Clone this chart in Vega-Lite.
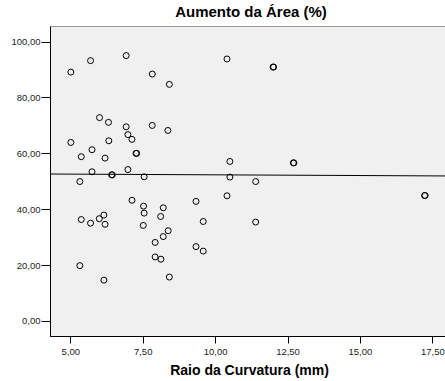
{
  "$schema": "https://vega.github.io/schema/vega-lite/v6.json",
  "autosize": "none",
  "width": 398,
  "height": 310,
  "padding": {"left": 50, "top": 26, "right": 0, "bottom": 45},
  "background": "white",
  "title": {"text": "Aumento da Área (%)", "font": "Liberation Sans", "fontSize": 15, "fontWeight": "bold", "color": "black", "anchor": "middle", "dx": 2, "baseline": "alphabetic", "offset": -6},
  "config": {
    "view": {"fill": "#f0f0f0", "stroke": "#999999", "strokeWidth": 1},
    "axis": {"labelFont": "Liberation Sans", "labelFontSize": 9.5, "labelColor": "#222", "titleFont": "Liberation Sans", "titleFontSize": 14, "titleFontWeight": "bold", "titleColor": "black", "domainColor": "black", "tickColor": "black", "grid": false}
  },
  "datasets": {
    "pts": [
      {"raio": 5.02, "aumento": 89.1}, {"raio": 5.70, "aumento": 93.2}, {"raio": 6.93, "aumento": 95.0},
      {"raio": 7.83, "aumento": 88.4}, {"raio": 8.42, "aumento": 84.7}, {"raio": 10.41, "aumento": 93.8},
      {"raio": 12.0, "aumento": 90.9}, {"raio": 12.02, "aumento": 90.9},
      {"raio": 6.01, "aumento": 72.8}, {"raio": 6.32, "aumento": 71.1}, {"raio": 6.93, "aumento": 69.5},
      {"raio": 7.83, "aumento": 70.0}, {"raio": 8.37, "aumento": 68.2}, {"raio": 6.99, "aumento": 66.7},
      {"raio": 7.13, "aumento": 65.0}, {"raio": 6.33, "aumento": 64.5}, {"raio": 5.02, "aumento": 63.9},
      {"raio": 5.75, "aumento": 61.3}, {"raio": 7.27, "aumento": 60.0}, {"raio": 7.29, "aumento": 60.0},
      {"raio": 5.38, "aumento": 58.8}, {"raio": 6.20, "aumento": 58.3}, {"raio": 10.51, "aumento": 57.1},
      {"raio": 12.70, "aumento": 56.6}, {"raio": 12.72, "aumento": 56.6},
      {"raio": 6.99, "aumento": 54.2}, {"raio": 5.75, "aumento": 53.4}, {"raio": 6.43, "aumento": 52.3}, {"raio": 6.45, "aumento": 52.3},
      {"raio": 7.55, "aumento": 51.6}, {"raio": 10.51, "aumento": 51.5}, {"raio": 5.33, "aumento": 49.9},
      {"raio": 11.40, "aumento": 49.9}, {"raio": 10.41, "aumento": 44.8}, {"raio": 17.23, "aumento": 44.9}, {"raio": 17.25, "aumento": 44.9},
      {"raio": 7.13, "aumento": 43.2}, {"raio": 9.34, "aumento": 42.8}, {"raio": 7.53, "aumento": 41.1},
      {"raio": 8.21, "aumento": 40.5}, {"raio": 7.55, "aumento": 38.6}, {"raio": 6.16, "aumento": 37.9},
      {"raio": 8.12, "aumento": 37.4}, {"raio": 5.38, "aumento": 36.3}, {"raio": 6.00, "aumento": 36.6},
      {"raio": 9.59, "aumento": 35.6}, {"raio": 11.40, "aumento": 35.4}, {"raio": 5.70, "aumento": 35.0},
      {"raio": 6.20, "aumento": 34.6}, {"raio": 7.52, "aumento": 34.2}, {"raio": 8.38, "aumento": 32.3},
      {"raio": 8.21, "aumento": 30.2}, {"raio": 7.93, "aumento": 28.1}, {"raio": 9.34, "aumento": 26.6},
      {"raio": 9.59, "aumento": 25.0}, {"raio": 7.93, "aumento": 22.9}, {"raio": 8.13, "aumento": 22.1},
      {"raio": 5.33, "aumento": 19.8}, {"raio": 8.42, "aumento": 15.7}, {"raio": 6.16, "aumento": 14.6}
    ],
    "fit": [
      {"raio": 4.30, "aumento": 52.6},
      {"raio": 18.04, "aumento": 51.9}
    ]
  },
  "layer": [
    {
      "data": {"name": "pts"},
      "mark": {"type": "point", "shape": "circle", "filled": false, "stroke": "black", "strokeWidth": 1, "size": 36, "opacity": 1},
      "encoding": {
        "x": {"field": "raio", "type": "quantitative", "scale": {"domain": [4.30, 18.04], "nice": false, "zero": false},
          "axis": {"title": "Raio da Curvatura (mm)", "values": [5, 7.5, 10, 12.5, 15, 17.5], "labelExpr": "replace(format(datum.value, '.2f'), '.', ',')", "tickSize": 7, "labelPadding": 3, "titlePadding": 8}},
        "y": {"field": "aumento", "type": "quantitative", "scale": {"domain": [-5.4, 105.6], "nice": false, "zero": false},
          "axis": {"title": null, "values": [0, 20, 40, 60, 80, 100], "labelExpr": "replace(format(datum.value, '.2f'), '.', ',')", "tickSize": 9, "labelPadding": 1}}
      }
    },
    {
      "data": {"name": "fit"},
      "mark": {"type": "line", "color": "black", "strokeWidth": 1, "clip": true},
      "encoding": {
        "x": {"field": "raio", "type": "quantitative"},
        "y": {"field": "aumento", "type": "quantitative"}
      }
    }
  ]
}
